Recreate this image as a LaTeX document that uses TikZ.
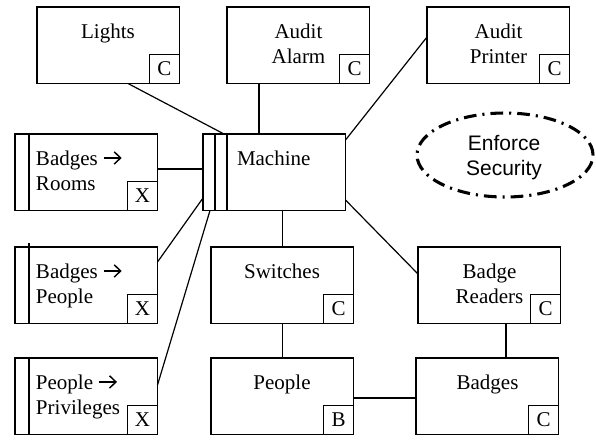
\documentclass[tikz,border=0pt]{standalone}
\usepackage{fontspec}
\setmainfont{Liberation Serif}
\newfontfamily\sansfam{Liberation Sans}
\usetikzlibrary{calc,shapes.geometric}

\newcommand{\boxfont}{\fontsize{15.75}{18.75}\selectfont}
\newcommand{\ctrlines}[1]{\begin{tabular}[t]{@{}c@{}}#1\end{tabular}}
\newcommand{\leftlines}[1]{\begin{tabular}[t]{@{}l@{}}#1\end{tabular}}
% open-headed mapping arrow used in the relation names
\newcommand{\mapsarrow}{\tikz[baseline=0pt, x=1pt, y=1pt]{%
  \draw[line width=1.1pt] (0,5.3) -- (12.3,5.3);
  \draw[line width=1.1pt, line join=miter] (7.8,9.9) -- (12.6,5.3) -- (7.8,0.7);}}

\tikzset{
  box/.style={draw, line width=1.1pt, rectangle, inner sep=0pt, outer sep=0pt,
    anchor=north west, minimum width=142.5*0.75pt, minimum height=76.5*0.75pt},
  tag/.style={draw, line width=1.1pt, rectangle, inner sep=0pt, outer sep=0pt,
    anchor=south east, minimum width=30*0.75pt, minimum height=29*0.75pt, font=\boxfont},
  wire/.style={line width=0.9pt},
  bar/.style={line width=1.1pt},
  txt/.style={inner sep=0pt, outer sep=0pt, anchor=base, font=\boxfont},
  ltxt/.style={txt, anchor=base west},
  goal/.style={draw, ellipse, line width=2.3pt, inner sep=0pt,
    minimum width=176*0.75pt, minimum height=84*0.75pt,
    dash pattern=on 9.5pt off 4.5pt on 1.6pt off 4.5pt},
}

\begin{document}
\begin{tikzpicture}[x=0.75pt, y=-0.75pt]
\useasboundingbox (0,0) rectangle (596,440);

% top row
\node[box] (lights)  at (37,7)  {};
\node[box] (alarm)   at (227,7) {};
\node[box] (printer) at (427,7) {};
\node[tag] (lights-c)  at (lights.south east)  {C};
\node[tag] (alarm-c)   at (alarm.south east)   {C};
\node[tag] (printer-c) at (printer.south east) {C};
\node[txt] (lights-t)  at (108,38)   {Lights};
\node[txt] (alarm-t)   at (298.5,38) {\ctrlines{Audit\\Alarm}};
\node[txt] (printer-t) at (498.5,38) {\ctrlines{Audit\\Printer}};

% machine with its double bar
\node[box] (mach) at (203,134) {};
\draw[bar] ($(mach.north west)+(12,0)$) -- ($(mach.south west)+(12,0)$);
\draw[bar] ($(mach.north west)+(24,0)$) -- ($(mach.south west)+(24,0)$);
\node[ltxt] (mach-t) at (237,165) {Machine};

% left column of relation boxes
\node[box] (rooms)   at (15,134) {};
\node[box] (bpeople) at (15,247) {};
\node[box] (privs)   at (15,358) {};
\draw[bar] ($(rooms.north west)+(14,0)$) -- ($(rooms.south west)+(14,0)$);
\draw[bar] ($(bpeople.north west)+(14,-4)$) -- ($(bpeople.south west)+(14,0)$);
\draw[bar] ($(privs.north west)+(14,0)$) -- ($(privs.south west)+(14,0)$);
\node[tag] (rooms-x)   at (rooms.south east)   {X};
\node[tag] (bpeople-x) at (bpeople.south east) {X};
\node[tag] (privs-x)   at (privs.south east)   {X};
\node[ltxt] (rooms-t)   at (36,165) {\leftlines{Badges \mapsarrow\\Rooms}};
\node[ltxt] (bpeople-t) at (36,278) {\leftlines{Badges \mapsarrow\\People}};
\node[ltxt] (privs-t)   at (36,389) {\leftlines{People \mapsarrow\\Privileges}};

% middle and right boxes
\node[box] (switches) at (211,247) {};
\node[box] (readers)  at (418,247) {};
\node[box] (people)   at (211,358) {};
\node[box] (badges)   at (416,358) {};
\node[tag] (switches-c) at (switches.south east) {C};
\node[tag] (readers-c)  at (readers.south east)  {C};
\node[tag] (people-b)   at (people.south east)   {B};
\node[tag] (badges-c)   at (badges.south east)   {C};
\node[txt] (switches-t) at (282,278)   {Switches};
\node[txt] (readers-t)  at (489.5,278) {\ctrlines{Badge\\Readers}};
\node[txt] (people-t)   at (282,389)   {People};
\node[txt] (badges-t)   at (487.5,389) {Badges};

% goal ellipse
\node[goal] (goal) at (505,155) {};
\node[txt, font=\sansfam\boxfont] (goal-t) at (504,150) {\ctrlines{Enforce\\Security}};

% connectors
\draw[wire] ($(lights.south west)+(91,0)$) -- ($(mach.north west)+(21,0)$);
\draw[wire] ($(alarm.south west)+(32,0)$) -- ($(mach.north west)+(56,0)$);
\draw[wire] ($(printer.north west)+(0,30)$) -- ($(mach.north east)+(0,6)$);
\draw[wire] ($(rooms.north east)+(0,35)$) -- ($(mach.north west)+(0,35)$);
\draw[wire] ($(bpeople.north east)+(0,15)$) -- ($(mach.north west)+(0,64)$);
\draw[wire] ($(privs.north east)+(0,27)$) -- ($(mach.south west)+(7,0)$);
\draw[wire] (switches.north |- mach.south) -- (switches.north);
\draw[wire] ($(mach.north east)+(0,66)$) -- ($(readers.north west)+(0,27)$);
\draw[wire] (switches.south) -- (people.north);
\coordinate (rb) at ($(readers.south west)+(88,0)$);
\draw[wire] (rb) -- (rb |- badges.north);
\coordinate (pb) at ($(people.north east)+(0,40)$);
\draw[wire] (pb) -- (pb -| badges.west);
\end{tikzpicture}
\end{document}
